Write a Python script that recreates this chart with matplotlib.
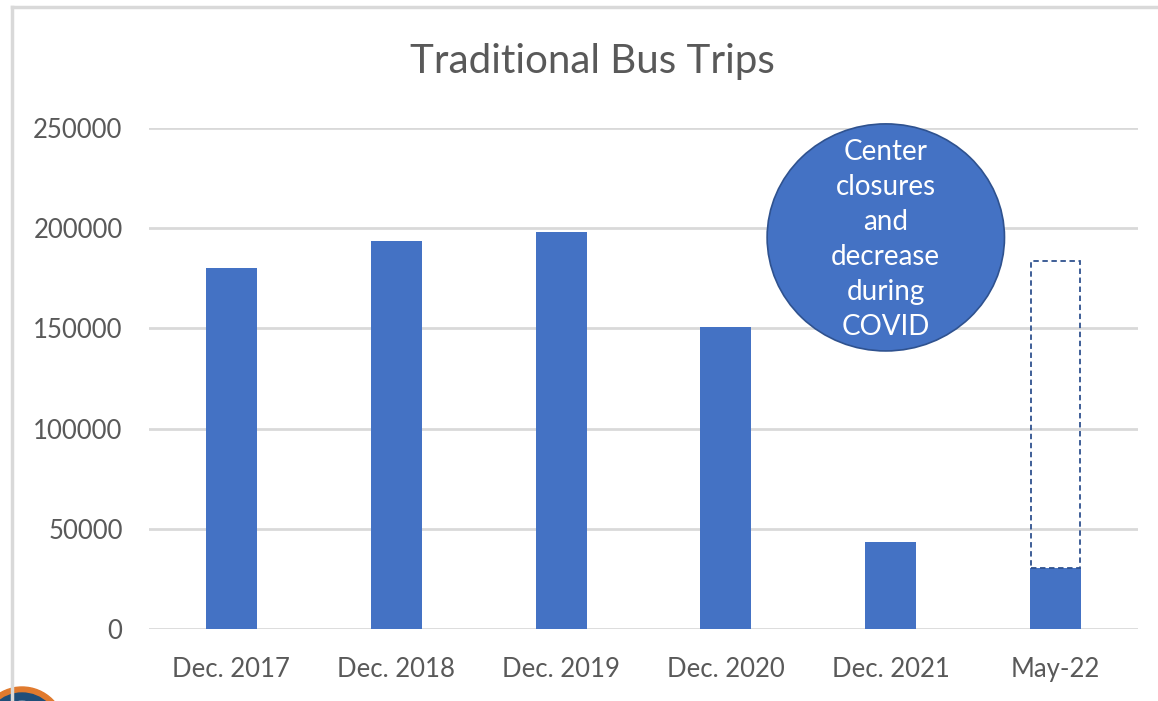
import matplotlib.pyplot as plt
from matplotlib.patches import Ellipse, Wedge
from matplotlib.lines import Line2D
from matplotlib.transforms import IdentityTransform

# chart values
categories = ['Dec. 2017', 'Dec. 2018', 'Dec. 2019', 'Dec. 2020', 'Dec. 2021', 'May-22']
trips = [180000, 193500, 198000, 150700, 43400, 30500]
projected_may = 183500  # dashed outline on the last bar
note = 'Center\nclosures\nand\ndecrease\nduring\nCOVID'

plt.rcParams['font.family'] = ['Lato', 'DejaVu Sans']

fig = plt.figure(figsize=(11.58, 7.01), dpi=100)
ax = fig.add_axes([149 / 1158, 1 - 629 / 701, (1138 - 149) / 1158, (629 - 128) / 701])

blue = '#4472C4'
dark = '#2F528F'
grey_text = '#595959'

x = range(len(categories))
ax.bar(x, trips, width=0.31, color=blue, zorder=3)

# dashed box showing the gap to pre-covid level
ax.bar(len(categories) - 1, projected_may - trips[-1], bottom=trips[-1], width=0.30,
       fill=False, edgecolor=dark, linestyle=(0, (3, 2)), linewidth=1.3, zorder=4)

ax.set_xlim(-0.5, len(categories) - 0.5)
ax.set_ylim(0, 250000)
ax.set_yticks(range(0, 250001, 50000))
ax.set_xticks(list(x))
ax.set_xticklabels(categories)
ax.yaxis.grid(True, color='#D9D9D9', linewidth=2, zorder=0)
ax.set_axisbelow(True)
for s in ax.spines.values():
    s.set_visible(False)
ax.tick_params(length=0, labelsize=18.5, colors=grey_text)
ax.tick_params(axis='y', pad=19)
ax.tick_params(axis='x', pad=20)

fig.text(592 / 1158, 1 - 62 / 701, 'Traditional Bus Trips', ha='center', va='center',
         fontsize=29, color=grey_text)

# annotation bubble
ell = Ellipse((3.97, 195400), width=1.44, height=113300, facecolor=blue,
              edgecolor=dark, linewidth=1.2, zorder=5, clip_on=False)
ax.add_patch(ell)
ax.text(3.97, 194400, note, ha='center', va='center', color='white', fontsize=20,
        linespacing=1.43, zorder=6)

# slide frame lines
fig.add_artist(Line2D([12 / 1158, 12 / 1158], [0, 1 - 7 / 701], color='#D9D9D9', linewidth=2.5))
fig.add_artist(Line2D([12 / 1158, 1], [1 - 7 / 701, 1 - 7 / 701], color='#D9D9D9', linewidth=2.5))

# corner of logo peeking in
fig.add_artist(Wedge((22, -29), 43, 0, 180, width=6, color='#E07A2E',
                     transform=IdentityTransform()))
fig.add_artist(Wedge((22, -29), 37, 0, 180, width=7, color='#1F4E79',
                     transform=IdentityTransform()))

fig.savefig('out.png', dpi=100)
